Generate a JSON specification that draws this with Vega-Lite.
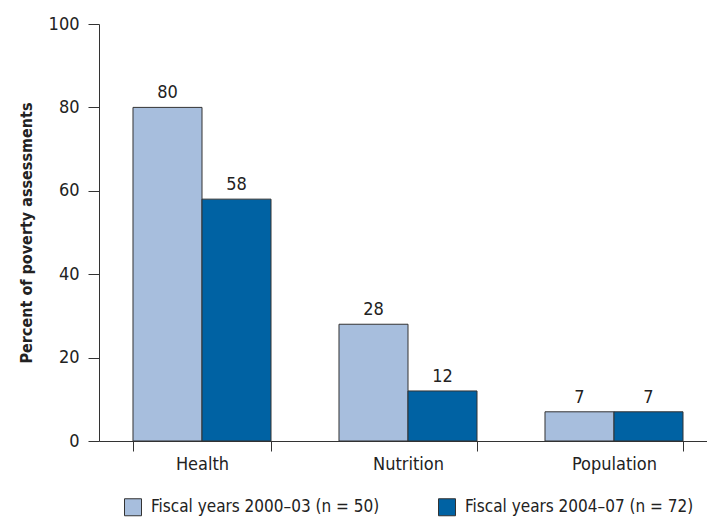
{
  "$schema": "https://vega.github.io/schema/vega-lite/v6.json",
  "autosize": "none",
  "padding": {"left": 99, "top": 24, "right": 0, "bottom": 76},
  "width": 618,
  "height": 417,
  "background": "white",
  "config": {
    "font": "DejaVu Sans Condensed, Roboto, sans-serif",
    "view": {"stroke": null},
    "axis": {"grid": false, "domainColor": "#333333", "tickColor": "#333333", "labelColor": "#222222", "labelFont": "DejaVu Sans Condensed, Roboto, sans-serif", "labelFontSize": 18, "titleFont": "DejaVu Sans Condensed, Roboto, sans-serif"},
    "legend": {"labelFont": "DejaVu Sans Condensed, Roboto, sans-serif"},
    "text": {"font": "DejaVu Sans Condensed, Roboto, sans-serif"}
  },
  "data": {
    "values": [
      {"sector": "Health", "period": "Fiscal years 2000–03 (n = 50)", "pct": 80},
      {"sector": "Health", "period": "Fiscal years 2004–07 (n = 72)", "pct": 58},
      {"sector": "Nutrition", "period": "Fiscal years 2000–03 (n = 50)", "pct": 28},
      {"sector": "Nutrition", "period": "Fiscal years 2004–07 (n = 72)", "pct": 12},
      {"sector": "Population", "period": "Fiscal years 2000–03 (n = 50)", "pct": 7},
      {"sector": "Population", "period": "Fiscal years 2004–07 (n = 72)", "pct": 7}
    ]
  },
  "encoding": {
    "x": {
      "field": "sector", "type": "nominal", "sort": ["Health", "Nutrition", "Population"],
      "scale": {"paddingInner": 0.33, "paddingOuter": 0.165},
      "axis": {"title": null, "labelAngle": 0, "tickBand": "extent", "tickSize": 10, "labelPadding": 4, "domainWidth": 1}
    },
    "xOffset": {"field": "period", "type": "nominal"},
    "y": {
      "field": "pct", "type": "quantitative",
      "scale": {"domain": [0, 100], "nice": false},
      "axis": {"values": [0, 20, 40, 60, 80, 100], "tickSize": 11, "labelPadding": 9, "title": "Percent of poverty assessments", "titleFontWeight": "bold", "titleFontSize": 16, "titleColor": "#222222", "titlePadding": 14}
    }
  },
  "layer": [
    {
      "mark": {"type": "bar", "stroke": "#333333", "strokeWidth": 1},
      "encoding": {
        "color": {
          "field": "period", "type": "nominal",
          "scale": {"range": ["#a7bedd", "#0062a3"]},
          "legend": {
            "title": null, "orient": "none", "direction": "horizontal",
            "legendX": 25, "legendY": 474,
            "symbolType": "square", "symbolSize": 289, "symbolStrokeColor": "#333333", "symbolStrokeWidth": 1,
            "labelFontSize": 17, "labelColor": "#222222", "labelOffset": 9, "labelLimit": 400, "columnPadding": 56
          }
        }
      }
    },
    {
      "mark": {"type": "text", "baseline": "bottom", "dy": -5, "fontSize": 18, "color": "#222222"},
      "encoding": {"text": {"field": "pct", "type": "quantitative"}}
    }
  ]
}
